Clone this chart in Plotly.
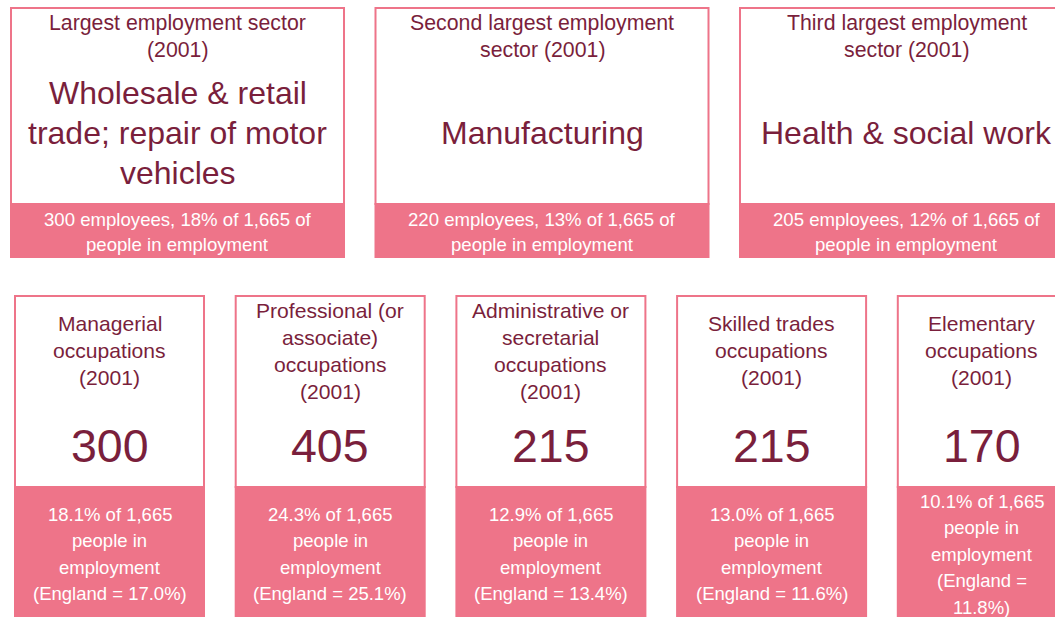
import plotly.graph_objects as go

# data
total_employed = 1665
sector_titles = ["Largest employment sector<br>(2001)",
                 "Second largest employment<br>sector (2001)",
                 "Third largest employment<br>sector (2001)"]
sector_names = ["Wholesale & retail<br>trade; repair of motor<br>vehicles",
                "Manufacturing",
                "Health & social work"]
sector_employees = [300, 220, 205]
sector_pct = [18, 13, 12]

occ_titles = ["Managerial<br>occupations<br>(2001)",
              "Professional (or<br>associate)<br>occupations<br>(2001)",
              "Administrative or<br>secretarial<br>occupations<br>(2001)",
              "Skilled trades<br>occupations<br>(2001)",
              "Elementary<br>occupations<br>(2001)"]
occ_counts = [300, 405, 215, 215, 170]
occ_pct = [18.1, 24.3, 12.9, 13.0, 10.1]
england_pct = [17.0, 25.1, 13.4, 11.6, 11.8]

PINK = "#EE7489"
MAROON = "#7A1F3C"
FONT = "Liberation Sans, Arial, sans-serif"

fig = go.Figure()
shapes = []
annotations = []


def add_lines(lines, xc, y_first, step, size, color):
    for k, line in enumerate(lines):
        annotations.append(dict(x=xc, y=y_first + k * step, xref="x", yref="y",
                                text=line, showarrow=False, xanchor="center",
                                yanchor="middle",
                                font=dict(family=FONT, size=size, color=color)))


# top row: sector cards
for i in range(3):
    x0 = 10 + i * 364.5
    x1 = x0 + 335
    xc = (x0 + x1) / 2
    shapes.append(dict(type="rect", xref="x", yref="y", x0=x0 + 1, x1=x1 - 1, y0=8, y1=204,
                       line=dict(color=PINK, width=2), fillcolor="white"))
    shapes.append(dict(type="rect", xref="x", yref="y", x0=x0, x1=x1, y0=203, y1=258,
                       line=dict(width=0), fillcolor=PINK))
    add_lines(sector_titles[i].split("<br>"), xc, 23, 27, 21.3, MAROON)
    name_lines = sector_names[i].split("<br>")
    n = len(name_lines)
    add_lines(name_lines, xc, 133 - (n - 1) * 40 / 2, 40, 32, MAROON)
    band = [f"{sector_employees[i]} employees, {sector_pct[i]}% of {total_employed:,} of",
            "people in employment"]
    add_lines(band, xc, 219, 25.5, 18.6, "white")

# bottom row: occupation cards
for i in range(5):
    x0 = 14 + i * 220.7
    w = 191 if i < 4 else 170
    x1 = x0 + w
    xc = (x0 + x1) / 2
    shapes.append(dict(type="rect", xref="x", yref="y", x0=x0 + 1, x1=x1 - 1, y0=296, y1=487,
                       line=dict(color=PINK, width=2), fillcolor="white"))
    shapes.append(dict(type="rect", xref="x", yref="y", x0=x0, x1=x1, y0=486, y1=617,
                       line=dict(width=0), fillcolor=PINK))
    t_lines = occ_titles[i].split("<br>")
    n = len(t_lines)
    add_lines(t_lines, xc, 350.5 - (n - 1) * 27 / 2, 27, 21.1, MAROON)
    add_lines([str(occ_counts[i])], xc, 446, 0, 46.5, MAROON)
    if i < 4:
        band = [f"{occ_pct[i]:.1f}% of {total_employed:,}", "people in", "employment",
                f"(England = {england_pct[i]:.1f}%)"]
        add_lines(band, xc, 514, 26.5, 18.5, "white")
    else:
        band = [f"{occ_pct[i]:.1f}% of {total_employed:,}", "people in", "employment",
                "(England =", f"{england_pct[i]:.1f}%)"]
        add_lines(band, xc, 501, 26.5, 18.5, "white")

fig.update_layout(
    width=1055, height=617,
    margin=dict(t=0, l=0, r=0, b=0),
    paper_bgcolor="white", plot_bgcolor="white",
    xaxis=dict(range=[0, 1055], visible=False, fixedrange=True),
    yaxis=dict(range=[617, 0], visible=False, fixedrange=True),
    shapes=shapes, annotations=annotations,
    showlegend=False,
)

# drop the browser's default body margin so the figure sits at the window origin
fig.write_html("out.html", config={"displayModeBar": False},
               post_script="document.body.style.margin='0';document.body.style.overflow='hidden';")
